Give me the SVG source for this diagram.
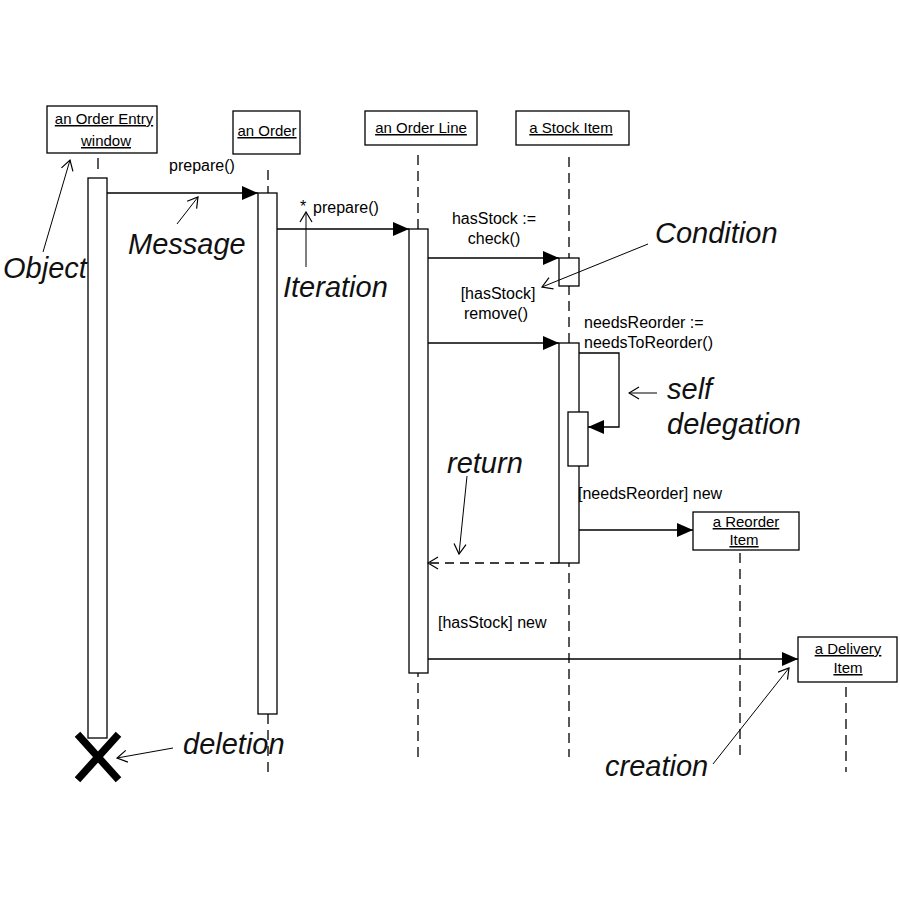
<svg xmlns="http://www.w3.org/2000/svg" width="900" height="900" viewBox="0 0 900 900">
  <style>
    .box { fill: #fff; stroke: #000; stroke-width: 1.3; }
    .act { fill: #fff; stroke: #000; stroke-width: 1.3; }
    .life { stroke: #000; stroke-width: 1.3; stroke-dasharray: 10 6; fill: none; }
    .msg { stroke: #000; stroke-width: 1.3; fill: none; }
    .ret { stroke: #000; stroke-width: 1.3; fill: none; stroke-dasharray: 9 6; }
    .note { stroke: #000; stroke-width: 1; fill: none; }
    .lbl { font-family: "Liberation Sans", Arial, sans-serif; font-size: 16px; fill: #000; }
    .name { font-family: "Liberation Sans", Arial, sans-serif; font-size: 15px; fill: #000; text-decoration: underline; text-anchor: middle; }
    .ann { font-family: "Liberation Sans", Arial, sans-serif; font-size: 29px; font-style: italic; fill: #111; }
  </style>
  <defs>
    <marker id="solid" markerUnits="userSpaceOnUse" markerWidth="16" markerHeight="14" refX="16" refY="7" orient="auto">
      <path d="M0,0 L16,7 L0,14 z" fill="#000"/>
    </marker>
    <marker id="open" markerUnits="userSpaceOnUse" markerWidth="12" markerHeight="14" refX="11" refY="7" orient="auto">
      <path d="M1,1 L11,7 L1,13" fill="none" stroke="#000" stroke-width="1.2"/>
    </marker>
  </defs>
  <rect width="900" height="900" fill="#fff"/>

  <!-- lifelines -->
  <g id="lifelines">
    <line x1="98" y1="158" x2="98" y2="169" stroke="#000" stroke-width="1.3"/>
    <line class="life" x1="268" y1="170" x2="268" y2="772"/>
    <line class="life" x1="418" y1="155" x2="418" y2="757"/>
    <line class="life" x1="569" y1="157" x2="569" y2="757"/>
    <line class="life" x1="740" y1="553" x2="740" y2="757"/>
    <line class="life" x1="846" y1="687" x2="846" y2="772"/>
  </g>

  <!-- objects -->
  <g id="order-entry-window">
    <rect class="box" x="47" y="106" width="110" height="47"/>
    <text class="name" x="104" y="124">an Order Entry</text>
    <text class="name" x="106" y="146">window</text>
    <rect class="act" x="88" y="178" width="19" height="560"/>
    <path d="M80,737 L116,777 M116,737 L80,777" stroke="#000" stroke-width="7.5" stroke-linecap="square"/>
  </g>
  <g id="an-order">
    <rect class="box" x="233" y="111" width="67" height="43"/>
    <text class="name" x="267" y="136">an Order</text>
    <rect class="act" x="258" y="193" width="19" height="521"/>
  </g>
  <g id="order-line">
    <rect class="box" x="365" y="111" width="112" height="34"/>
    <text class="name" x="421" y="133">an Order Line</text>
    <rect class="act" x="409" y="229" width="19" height="444"/>
  </g>
  <g id="stock-item">
    <rect class="box" x="516" y="111" width="113" height="34"/>
    <text class="name" x="571" y="133">a Stock Item</text>
    <rect class="act" x="559" y="258" width="20" height="28"/>
    <rect class="act" x="559" y="343" width="20" height="220"/>
    <rect class="act" x="568" y="412" width="20" height="54"/>
  </g>
  <g id="reorder-item">
    <rect class="box" x="693" y="512" width="106" height="38"/>
    <text class="name" x="746" y="527">a Reorder</text>
    <text class="name" x="744" y="545">Item</text>
  </g>
  <g id="delivery-item">
    <rect class="box" x="798" y="637" width="99" height="45"/>
    <text class="name" x="848" y="654">a Delivery</text>
    <text class="name" x="848" y="673">Item</text>
  </g>

  <!-- messages -->
  <g id="connectors">
    <line class="msg" x1="107" y1="193" x2="258" y2="193" marker-end="url(#solid)"/>
    <line class="msg" x1="277" y1="229" x2="409" y2="229" marker-end="url(#solid)"/>
    <line class="msg" x1="428" y1="258" x2="559" y2="258" marker-end="url(#solid)"/>
    <line class="msg" x1="428" y1="343" x2="559" y2="343" marker-end="url(#solid)"/>
    <polyline class="msg" points="579,353 619,353 619,427 588,427" marker-end="url(#solid)"/>
    <line class="msg" x1="579" y1="530" x2="693" y2="530" marker-end="url(#solid)"/>
    <line class="ret" x1="559" y1="563" x2="428" y2="563" marker-end="url(#open)"/>
    <line class="msg" x1="428" y1="659" x2="798" y2="659" marker-end="url(#solid)"/>
  </g>

  <!-- message labels -->
  <g id="message-labels">
    <text class="lbl" x="169" y="171">prepare()</text>
    <text class="lbl" x="300" y="212">*</text>
    <text class="lbl" x="313" y="213">prepare()</text>
    <text class="lbl" x="494" y="224" text-anchor="middle">hasStock :=</text>
    <text class="lbl" x="494" y="244" text-anchor="middle">check()</text>
    <text class="lbl" x="498" y="299" text-anchor="middle">[hasStock]</text>
    <text class="lbl" x="496" y="319" text-anchor="middle">remove()</text>
    <text class="lbl" x="584" y="328">needsReorder :=</text>
    <text class="lbl" x="584" y="348">needsToReorder()</text>
    <text class="lbl" x="578" y="499">[needsReorder] new</text>
    <text class="lbl" x="438" y="628">[hasStock] new</text>
  </g>

  <!-- annotations -->
  <g id="annotations">
    <text class="ann" x="3" y="278">Object</text>
    <line class="note" x1="43" y1="252" x2="70" y2="160" marker-end="url(#open)"/>
    <text class="ann" x="128" y="254">Message</text>
    <line class="note" x1="177" y1="224" x2="198" y2="197" marker-end="url(#open)"/>
    <text class="ann" x="283" y="297">Iteration</text>
    <line class="note" x1="306" y1="267" x2="306" y2="212" stroke-width="1.4" marker-end="url(#open)"/>
    <text class="ann" x="655" y="243">Condition</text>
    <line class="note" x1="648" y1="244" x2="542" y2="287" marker-end="url(#open)"/>
    <line class="note" x1="657" y1="393" x2="629" y2="393" marker-end="url(#open)"/>
    <text class="ann" x="667" y="399">self</text>
    <text class="ann" x="667" y="434">delegation</text>
    <text class="ann" x="447" y="473">return</text>
    <line class="note" x1="467" y1="476" x2="459" y2="554" marker-end="url(#open)"/>
    <text class="ann" x="183" y="754">deletion</text>
    <line class="note" x1="173" y1="748" x2="117" y2="758" marker-end="url(#open)"/>
    <text class="ann" x="605" y="776">creation</text>
    <line class="note" x1="713" y1="764" x2="789" y2="668" marker-end="url(#open)"/>
  </g>
</svg>
